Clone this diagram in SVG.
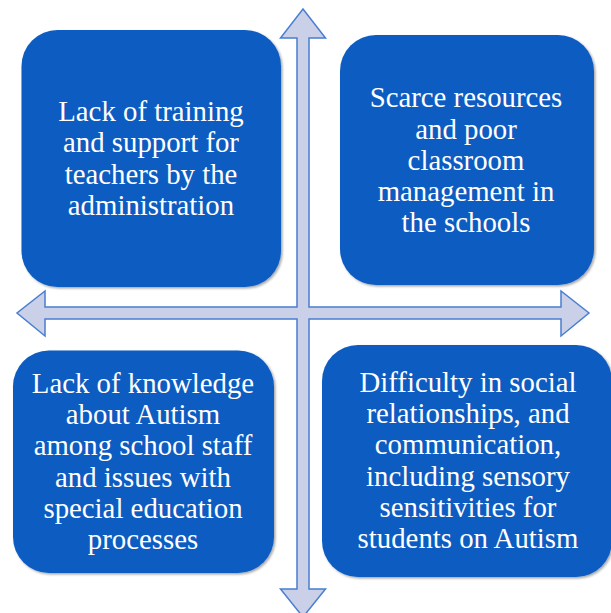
<svg xmlns="http://www.w3.org/2000/svg" width="611" height="613" viewBox="0 0 611 613">
<style>
.box{fill:#0A5BC2;filter:url(#sh)}
.t{font-family:"Liberation Serif","Times New Roman",serif;font-size:28.8px;fill:#ffffff;text-anchor:middle}
.arrow{fill:#CAD0E8;stroke:#4A7ED0;stroke-width:1.5;stroke-linejoin:miter}
</style>
<defs>
<filter id="sh" x="-5%" y="-5%" width="115%" height="115%">
<feDropShadow dx="1.5" dy="1.5" stdDeviation="1" flood-color="#000" flood-opacity="0.35"/>
</filter>
</defs>
<g id="connectors">
<path class="arrow" d="M303,9 L325.5,38 L309,38 L309,307 L561,307 L561,291 L589,313 L561,336 L561,319 L309,319 L309,589 L325.5,589 L303,617 L280.5,589 L297,589 L297,319 L45,319 L45,336 L17,313 L45,291 L45,307 L297,307 L297,38 L280.5,38 Z"/>
</g>
<g id="box1">
<rect class="box" x="21.5" y="30" width="259.5" height="257" rx="36"/>
<text class="t" x="151" y="121">Lack of training</text>
<text class="t" x="151" y="152">and support for</text>
<text class="t" x="151" y="184">teachers by the</text>
<text class="t" x="151" y="215">administration</text>
</g>
<g id="box2">
<rect class="box" x="340" y="35" width="254" height="250" rx="36"/>
<text class="t" x="466" y="107">Scarce resources</text>
<text class="t" x="466" y="139">and poor</text>
<text class="t" x="466" y="170">classroom</text>
<text class="t" x="466" y="201">management in</text>
<text class="t" x="466" y="232">the schools</text>
</g>
<g id="box3">
<rect class="box" x="13" y="350.5" width="261" height="222.5" rx="36"/>
<text class="t" x="143" y="393">Lack of knowledge</text>
<text class="t" x="143" y="424">about Autism</text>
<text class="t" x="143" y="455">among school staff</text>
<text class="t" x="143" y="487">and issues with</text>
<text class="t" x="143" y="518">special education</text>
<text class="t" x="143" y="549">processes</text>
</g>
<g id="box4">
<rect class="box" x="322" y="345" width="290" height="232" rx="36"/>
<text class="t" x="468" y="392">Difficulty in social</text>
<text class="t" x="468" y="423">relationships, and</text>
<text class="t" x="468" y="454">communication,</text>
<text class="t" x="468" y="486">including sensory</text>
<text class="t" x="468" y="517">sensitivities for</text>
<text class="t" x="468" y="548">students on Autism</text>
</g>
</svg>
